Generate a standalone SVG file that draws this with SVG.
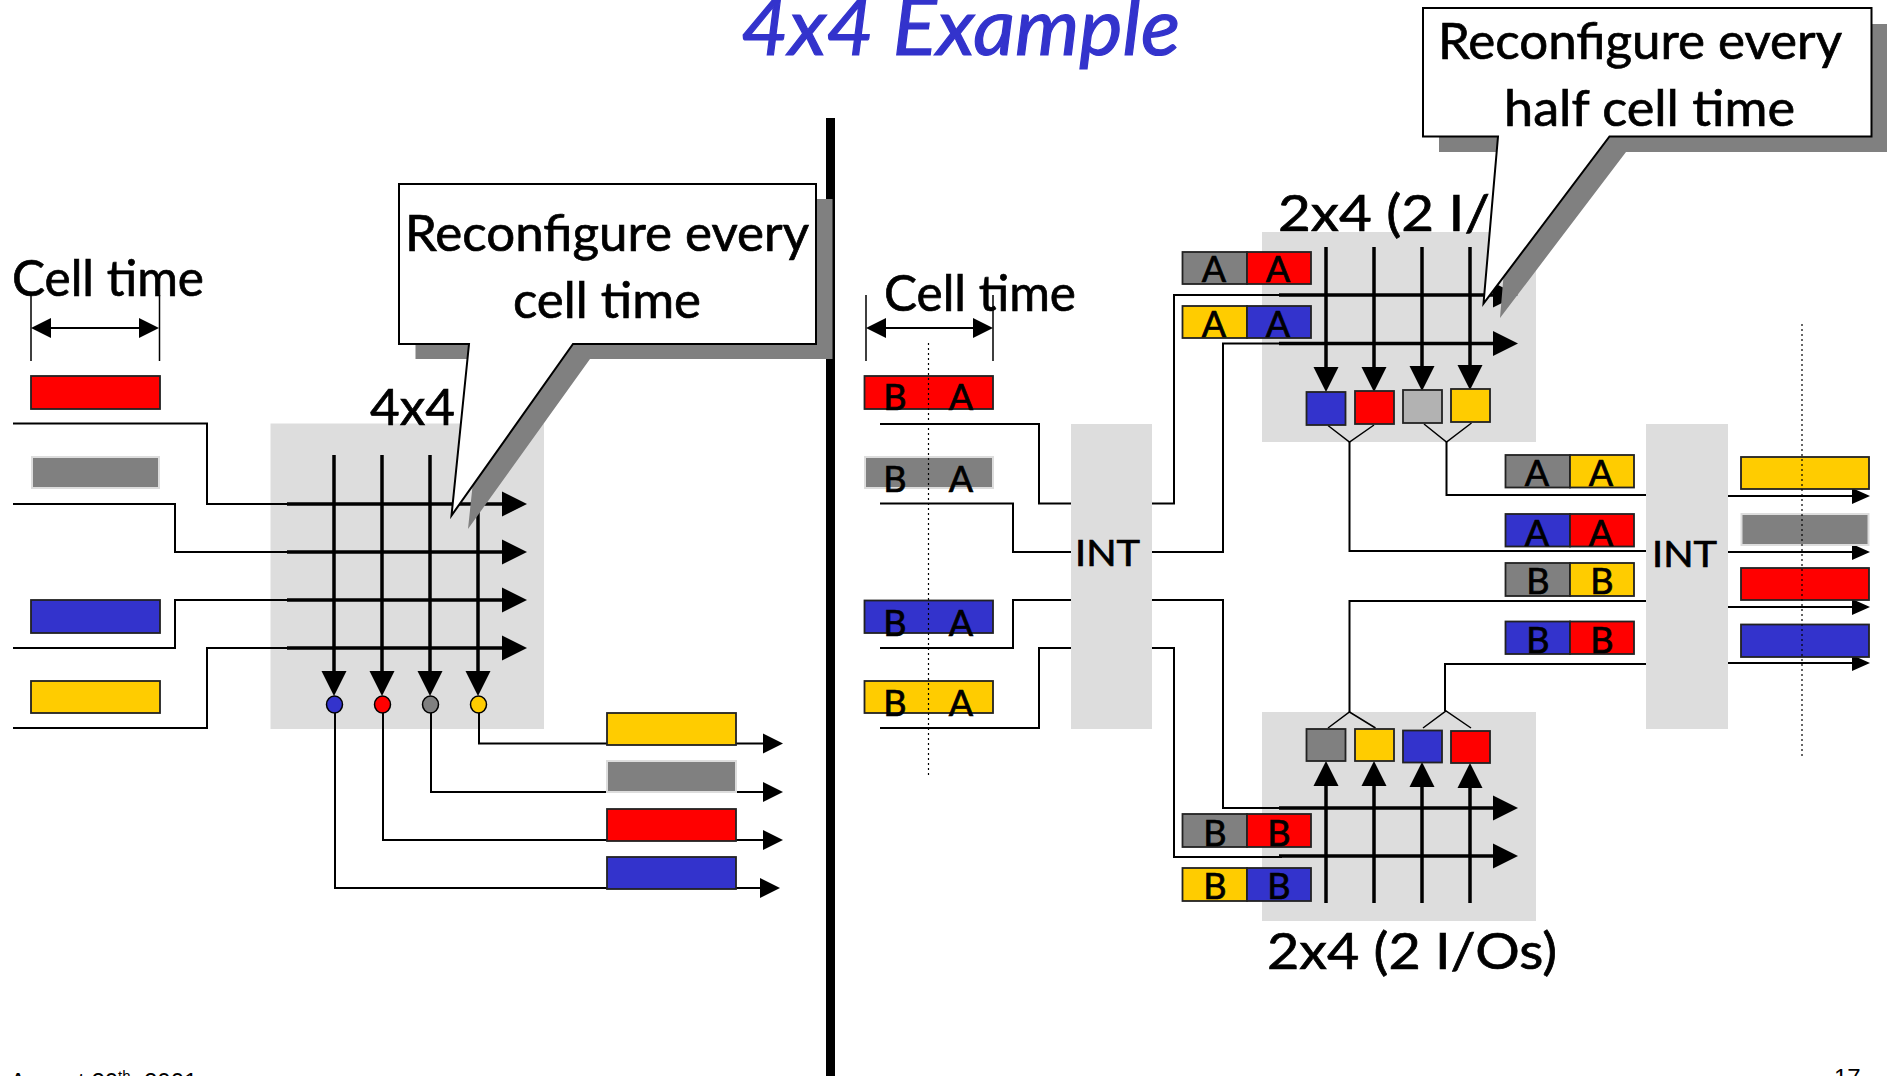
<svg xmlns="http://www.w3.org/2000/svg" width="1891" height="1076" viewBox="0 0 1891 1076">
<style>
text{font-family:"Lato","Open Sans","DejaVu Sans",sans-serif;fill:#000;stroke:#000;stroke-width:.7}
.title{font-size:80px;font-style:italic;fill:#3333CC;stroke:#3333CC;stroke-width:1.2}
.big{font-size:50px}
.int{font-size:36px}
.ch{font-size:36px;text-anchor:middle}
.foot{font-family:"Liberation Sans",Arial,sans-serif;font-size:24px;stroke:none}
.box{fill:#DDDDDD}
.thin,.thick,.y,.dot,.tick{fill:none;stroke:#000}
.thin{stroke-width:2}
.thick{stroke-width:3.5}
.y{stroke-width:1.5}
.tick{stroke-width:1.5}
.dot{stroke-width:1.2;stroke-dasharray:2 3}
.r{stroke:#222;stroke-width:1.8}
.g{stroke:#DDDDDD;stroke-width:2}
.red{fill:#FF0000}.blue{fill:#3333CC}.yel{fill:#FFCC00}.gra{fill:#808080}.lg{fill:#B2B2B2}
.co{fill:#fff;stroke:#000;stroke-width:2;stroke-linejoin:miter}
.sh{fill:#808080}
</style>
<defs>
<marker id="h25" markerUnits="userSpaceOnUse" markerWidth="26" markerHeight="26" refX="0" refY="13" orient="auto"><path d="M0,0.5L25,13L0,25.5z"/></marker>
<marker id="h20" markerUnits="userSpaceOnUse" markerWidth="21" markerHeight="22" refX="0" refY="11" orient="auto"><path d="M0,1L20,11L0,21z"/></marker>
<marker id="h18" markerUnits="userSpaceOnUse" markerWidth="19" markerHeight="18" refX="0" refY="9" orient="auto"><path d="M0,1L18,9L0,17z"/></marker>
<marker id="d20" markerUnits="userSpaceOnUse" markerWidth="21" markerHeight="22" refX="0" refY="11" orient="auto-start-reverse"><path d="M0,1L20,11L0,21z"/></marker>
</defs>

<rect id="divider" x="826" y="118" width="9" height="958" fill="#000"/>
<text id="title" class="title" x="741" y="55" textLength="439" lengthAdjust="spacingAndGlyphs">4x4 Example</text>
<text id="footer-date" class="foot" x="10" y="1090">August 20<tspan font-size="15" dy="-9">th</tspan><tspan dy="9">, 2001</tspan></text>
<text id="footer-page" class="foot" x="1834" y="1086">17</text>

<g id="switch-4x4"><rect class="box" x="270.5" y="423.5" width="273.5" height="305.5"/><text class="big" x="370" y="425" textLength="85" lengthAdjust="spacingAndGlyphs">4x4</text></g>
<g id="switch-top"><rect class="box" x="1262" y="232" width="274" height="210"/><text class="big" x="1278" y="231" textLength="212" lengthAdjust="spacingAndGlyphs">2x4 (2 I/</text></g>
<g id="switch-bottom"><rect class="box" x="1262" y="712" width="274" height="209"/><text class="big" x="1267" y="969" textLength="290" lengthAdjust="spacingAndGlyphs">2x4 (2 I/Os)</text></g>
<g id="int-left"><rect class="box" x="1071" y="424" width="81" height="305"/><text class="int" x="1075" y="566" textLength="65" lengthAdjust="spacingAndGlyphs">INT</text></g>
<g id="int-right"><rect class="box" x="1646" y="424" width="82" height="305"/><text class="int" x="1652" y="567" textLength="65" lengthAdjust="spacingAndGlyphs">INT</text></g>

<g id="connectors">
<path class="thin" d="M13,423.5H207V504H290"/>
<path class="thin" d="M13,504H175V552H290"/>
<path class="thin" d="M13,648H175V600H290"/>
<path class="thin" d="M13,728H207V648H290"/>
<path class="thick" d="M287,504H502" marker-end="url(#h25)"/>
<path class="thick" d="M287,552H502" marker-end="url(#h25)"/>
<path class="thick" d="M287,600H502" marker-end="url(#h25)"/>
<path class="thick" d="M287,648H502" marker-end="url(#h25)"/>
<path class="thick" d="M334,455V671" marker-end="url(#h25)"/>
<path class="thick" d="M382,455V671" marker-end="url(#h25)"/>
<path class="thick" d="M430,455V671" marker-end="url(#h25)"/>
<path class="thick" d="M478,455V671" marker-end="url(#h25)"/>
<path class="thin" d="M479,712V743.5H763" marker-end="url(#h20)"/>
<path class="thin" d="M431,712V792H763" marker-end="url(#h20)"/>
<path class="thin" d="M383,712V840H763" marker-end="url(#h20)"/>
<path class="thin" d="M335,712V888H760" marker-end="url(#h20)"/>
<path class="tick" d="M31,295V361M159.500,295V361M866,295V361M993,295V361"/>
<path class="thin" d="M51,328H139" marker-start="url(#d20)" marker-end="url(#h20)"/>
<path class="thin" d="M886,328H973" marker-start="url(#d20)" marker-end="url(#h20)"/>
<path class="thin" d="M880,424H1039V503.500H1071"/>
<path class="thin" d="M880,503.500H1013V552H1071"/>
<path class="thin" d="M880,648H1013V600H1071"/>
<path class="thin" d="M880,728H1039V648H1071"/>
<path class="thin" d="M1152,503.500H1174V295H1282"/>
<path class="thin" d="M1152,552H1223V343.500H1282"/>
<path class="thin" d="M1152,600H1223V808H1282"/>
<path class="thin" d="M1152,648H1174V857H1282"/>
<path class="thick" d="M1279,295H1493" marker-end="url(#h25)"/>
<path class="thick" d="M1279,343.500H1493" marker-end="url(#h25)"/>
<path class="thick" d="M1279,808H1493" marker-end="url(#h25)"/>
<path class="thick" d="M1279,856H1493" marker-end="url(#h25)"/>
<path class="thick" d="M1326,247V367" marker-end="url(#h25)"/>
<path class="thick" d="M1374,247V367" marker-end="url(#h25)"/>
<path class="thick" d="M1422,247V366" marker-end="url(#h25)"/>
<path class="thick" d="M1470,247V365" marker-end="url(#h25)"/>
<path class="thick" d="M1326,903V786" marker-end="url(#h25)"/>
<path class="thick" d="M1374,903V786" marker-end="url(#h25)"/>
<path class="thick" d="M1422,903V787" marker-end="url(#h25)"/>
<path class="thick" d="M1470,903V788" marker-end="url(#h25)"/>
<path class="y" d="M1328,425.500L1349.500,442L1374,425M1424,424L1446.500,442L1471.500,423"/>
<path class="y" d="M1328,728L1349.500,712L1375.500,728M1423,728L1446,711L1471,728"/>
<path class="thin" d="M1349.500,442V551H1646"/>
<path class="thin" d="M1446.500,442V495H1646"/>
<path class="thin" d="M1349.500,712V601H1646"/>
<path class="thin" d="M1445,711V664H1646"/>
<path class="thin" d="M1728,496H1852" marker-end="url(#h18)"/>
<path class="thin" d="M1728,552H1852" marker-end="url(#h18)"/>
<path class="thin" d="M1728,607H1852" marker-end="url(#h18)"/>
<path class="thin" d="M1728,663H1852" marker-end="url(#h18)"/>
</g>

<g id="left-inputs">
<rect class="r red" x="31" y="376" width="129" height="33"/>
<rect class="g gra" x="32" y="457" width="127" height="31"/>
<rect class="r blue" x="31" y="600" width="129" height="33"/>
<rect class="r yel" x="31" y="681" width="129" height="32"/>
</g>
<g id="left-outputs">
<rect class="r yel" x="607" y="713" width="129" height="32"/>
<rect class="g gra" x="607" y="761" width="129" height="31"/>
<rect class="r red" x="607" y="809" width="129" height="32"/>
<rect class="r blue" x="607" y="857" width="129" height="32"/>
</g>
<g id="left-ports" stroke="#000" stroke-width="1.5">
<ellipse class="blue" cx="334.500" cy="704.500" rx="8" ry="8.500"/>
<ellipse class="red" cx="382.500" cy="704.500" rx="8" ry="8.500"/>
<ellipse class="gra" cx="430.500" cy="704.500" rx="8" ry="8.500"/>
<ellipse class="yel" cx="478.500" cy="704.500" rx="8" ry="8.500"/>
</g>
<g id="cell-time-left"><text class="big" x="12" y="296" textLength="192" lengthAdjust="spacingAndGlyphs">Cell time</text></g>
<g id="cell-time-right"><text class="big" x="884" y="311" textLength="192" lengthAdjust="spacingAndGlyphs">Cell time</text></g>

<g id="right-inputs">
<rect class="r red" x="864.500" y="376" width="128.500" height="33"/>
<rect class="g gra" x="865" y="457" width="128" height="31"/>
<rect class="r blue" x="864.500" y="600.500" width="128.500" height="32.500"/>
<rect class="r yel" x="864.500" y="681" width="128.500" height="32"/>
<text class="ch" x="895" y="410">B</text><text class="ch" x="961" y="410">A</text>
<text class="ch" x="895" y="492">B</text><text class="ch" x="961" y="492">A</text>
<text class="ch" x="895" y="636">B</text><text class="ch" x="961" y="636">A</text>
<text class="ch" x="895" y="716">B</text><text class="ch" x="961" y="716">A</text>
</g>
<g id="chips-top">
<rect class="r gra" x="1182.500" y="252" width="64.500" height="32"/><rect class="r red" x="1247" y="252" width="64" height="32"/>
<text class="ch" x="1214" y="282">A</text><text class="ch" x="1278" y="282">A</text>
<rect class="r yel" x="1182.500" y="306" width="64.500" height="32"/><rect class="r blue" x="1247" y="306" width="64" height="32"/>
<text class="ch" x="1214" y="337">A</text><text class="ch" x="1278" y="337">A</text>
</g>
<g id="chips-bottom">
<rect class="r gra" x="1182.500" y="814" width="64.500" height="33"/><rect class="r red" x="1247" y="814" width="64" height="33"/>
<text class="ch" x="1215" y="846">B</text><text class="ch" x="1279" y="846">B</text>
<rect class="r yel" x="1182.500" y="868" width="64.500" height="33"/><rect class="r blue" x="1247" y="868" width="64" height="33"/>
<text class="ch" x="1215" y="899">B</text><text class="ch" x="1279" y="899">B</text>
</g>
<g id="chips-right">
<rect class="r gra" x="1505.500" y="455" width="64.500" height="32.500"/><rect class="r yel" x="1570" y="455" width="64" height="32.500"/>
<text class="ch" x="1537" y="486">A</text><text class="ch" x="1601" y="486">A</text>
<rect class="r blue" x="1505.500" y="514" width="64.500" height="32.500"/><rect class="r red" x="1570" y="514" width="64" height="32.500"/>
<text class="ch" x="1537" y="545.500">A</text><text class="ch" x="1601" y="545.500">A</text>
<rect class="r gra" x="1505.500" y="563" width="64.500" height="33"/><rect class="r yel" x="1570" y="563" width="64" height="33"/>
<text class="ch" x="1538" y="594">B</text><text class="ch" x="1602" y="594">B</text>
<rect class="r blue" x="1505.500" y="621.500" width="64.500" height="32.500"/><rect class="r red" x="1570" y="621.500" width="64" height="32.500"/>
<text class="ch" x="1538" y="653">B</text><text class="ch" x="1602" y="653">B</text>
</g>
<g id="ports-top">
<rect class="r blue" x="1306.500" y="392" width="39" height="33"/>
<rect class="r red" x="1355" y="391" width="39" height="33"/>
<rect class="r lg" x="1403" y="390" width="39" height="33"/>
<rect class="r yel" x="1451" y="389" width="39" height="33"/>
</g>
<g id="ports-bottom">
<rect class="r gra" x="1306.500" y="729" width="39" height="32"/>
<rect class="r yel" x="1355" y="729" width="39" height="32"/>
<rect class="r blue" x="1403" y="730.500" width="39" height="32"/>
<rect class="r red" x="1451" y="731" width="39" height="32"/>
</g>
<g id="right-outputs">
<rect class="r yel" x="1741" y="457" width="128" height="32"/>
<rect class="g gra" x="1741.500" y="514" width="127" height="31"/>
<rect class="r red" x="1741" y="568" width="128" height="32"/>
<rect class="r blue" x="1741" y="624.500" width="128" height="32.500"/>
</g>
<g id="clock-lines">
<path class="dot" d="M928.500,343V775"/>
<path class="dot" d="M1802,324V756"/>
</g>

<g id="callout-left">
<path class="sh" d="M415.500,199H832.500V359H590L468,529L486,359H415.500z"/>
<path class="co" d="M399,184H816V344H573L451.500,515.500L469,344H399z"/>
<text class="big" x="405" y="251" textLength="404" lengthAdjust="spacingAndGlyphs">Reconfigure every</text>
<text class="big" x="513" y="317.500" textLength="188" lengthAdjust="spacingAndGlyphs">cell time</text>
</g>
<g id="callout-right">
<path class="sh" d="M1439,24H1887V152H1626L1500,318L1514,152H1439z"/>
<path class="co" d="M1423,8H1871.500V136.500H1609.500L1483.500,303.500L1498,136.500H1423z"/>
<text class="big" x="1438" y="59" textLength="404" lengthAdjust="spacingAndGlyphs">Reconfigure every</text>
<text class="big" x="1504" y="126" textLength="291" lengthAdjust="spacingAndGlyphs">half cell time</text>
</g>
</svg>
